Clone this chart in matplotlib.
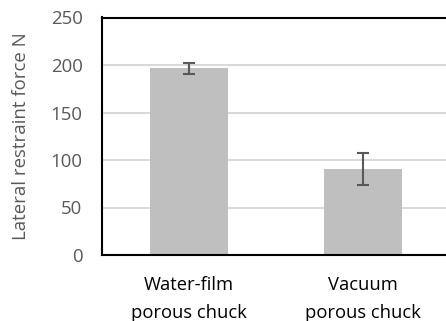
import matplotlib
matplotlib.use("Agg")
import matplotlib.pyplot as plt

categories = ["Water-film\nporous chuck", "Vacuum\nporous chuck"]
values = [196.5, 90.5]
errors = [6.0, 16.5]
yticks = [0, 50, 100, 150, 200, 250]

plt.rcParams['font.family'] = ['Open Sans', 'DejaVu Sans']

fig = plt.figure(figsize=(4.46, 3.21), dpi=100)
ax = fig.add_axes([102/446, 1-255/321, 348/446, (255-17.5)/321])

x = list(range(len(categories)))
ax.bar(x, values, width=0.448, color="#bfbfbf", zorder=2)
ax.errorbar(x, values, yerr=errors, fmt="none", ecolor="#595959",
            elinewidth=1.5, capsize=4.3, capthick=1.5, zorder=3)

ax.set_xlim(-0.5, 1.5)
ax.set_ylim(0, 250)
ax.set_yticks(yticks)
ax.set_yticklabels([str(t) for t in yticks], fontsize=13.4, color="#595959")
ax.set_xticks(x)
ax.set_xticklabels(categories, fontsize=13.2, color="black", linespacing=1.72)
ax.tick_params(axis="both", length=0)
ax.tick_params(axis="y", pad=14)
ax.tick_params(axis="x", pad=15)
ax.grid(axis="y", color="#d9d9d9", linewidth=1.5, zorder=0)
for s in ax.spines.values():
    s.set_color("black")
    s.set_linewidth(1.5)
ax.set_ylabel("Lateral restraint force N", fontsize=13.4, color="#595959", labelpad=15)

fig.savefig("out.png", dpi=100)
